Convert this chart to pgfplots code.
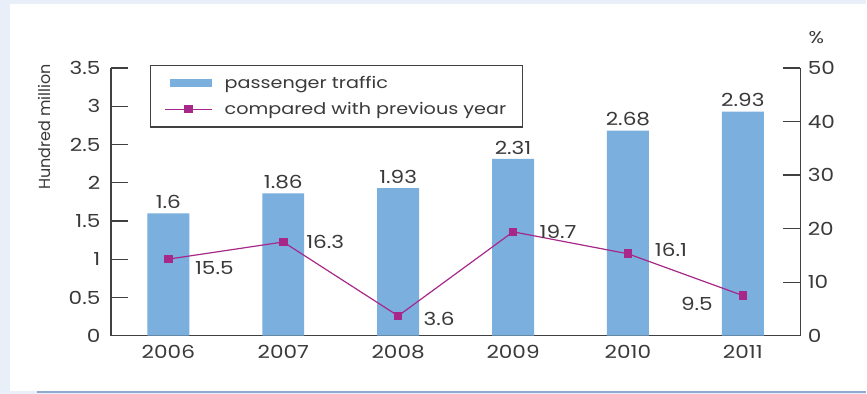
\documentclass[border=0pt]{standalone}
\usepackage{fontspec}
\setmainfont{Poppins}[FakeStretch=1.2]
\newfontfamily\plainfont{Poppins}
\usepackage{pgfplots}
\pgfplotsset{compat=1.18}
\definecolor{bgblue}{HTML}{E8EFF8}
\definecolor{barblue}{HTML}{7AAFDE}
\definecolor{linemag}{HTML}{A8288A}
\definecolor{txt}{HTML}{3A3A3A}
\definecolor{axiscol}{HTML}{404040}
\definecolor{rulecol}{HTML}{8FAACF}
\pgfplotsset{
  common/.style={
    at={(111pt,58pt)}, anchor=south west, scale only axis,
    width=690pt, height=268pt,
    xmin=-0.5, xmax=5.5,
    axis line style={axiscol, line width=1.3pt},
    tick style={axiscol, line width=1.3pt},
    tick align=inside, major tick length=17pt, minor tick length=6pt,
    ticklabel style={font=\fontsize{18}{20}\selectfont, text=txt},
    /pgf/number format/assume math mode=true,
  },
  barlegend/.style={legend image code/.code={\fill[barblue] (5pt,-4pt) rectangle (47pt,4pt);}},
  linelegend/.style={legend image code/.code={\draw[##1, mark repeat=2, mark phase=2] plot coordinates {(0pt,0pt) (23.5pt,0pt) (47pt,0pt)};}},
}
\begin{document}
\begin{tikzpicture}
\fill[bgblue] (0,0) rectangle (867pt,394pt);
\fill[white] (10pt,2.5pt) rectangle (867pt,390pt);
\draw[rulecol, line width=1.5pt] (37pt,1.5pt) -- (867pt,1.5pt);
\path[use as bounding box] (0,0) rectangle (867pt,394pt);

\begin{axis}[common,
  ymin=0, ymax=3.5, ytick={0,0.5,...,3.5},
  axis y line*=left, axis x line*=bottom,
  xtick={0,...,5}, xticklabels={2006,2007,2008,2009,2010,2011},
  xtick style={draw=none},
  minor xtick={0.5,1.5,2.5,3.5,4.5},
  yticklabel style={xshift=-7pt},
  xticklabel style={yshift=-6pt},
  ylabel={Hundred million},
  ylabel style={at={(axis description cs:-0.0957,0.78)}, anchor=center, font=\plainfont\fontsize{16}{18}\selectfont, text=txt},
  legend cell align=left,
  legend style={at={(0.0565,1.011)}, anchor=north west, draw=axiscol, line width=1.3pt, fill=white,
    font=\fontsize{16}{19}\selectfont, text=txt, inner xsep=14pt, inner ysep=9pt, row sep=8pt,
    /tikz/every odd column/.append style={column sep=10pt}},
]
\addplot[ybar, bar width=42pt, fill=barblue, draw=none, barlegend,
  nodes near coords, point meta=explicit symbolic,
  every node near coord/.append style={font=\fontsize{18}{20}\selectfont, text=txt, yshift=1pt}]
  table[meta=label] {
x y label
0 1.60 1.6
1 1.86 1.86
2 1.93 1.93
3 2.31 2.31
4 2.68 2.68
5 2.93 2.93
};
\addlegendentry{passenger traffic}
\addlegendimage{linemag, line width=1.2pt, mark=square*, mark size=3.7pt, linelegend}
\addlegendentry{compared with previous year}
\end{axis}

\begin{axis}[common,
  ymin=0, ymax=50, ytick={0,10,...,50},
  axis y line*=right, axis x line=none,
  yticklabel style={xshift=4pt},
  ylabel={\%},
  ylabel style={at={(axis description cs:1.0232,1.112)}, anchor=center, rotate=-90, font=\fontsize{17}{20}\selectfont, text=txt},
]
\addplot[linemag, line width=1.2pt, mark=square*, mark size=3.7pt,
  nodes near coords, point meta=explicit symbolic,
  visualization depends on={\thisrow{dx} \as \dx},
  visualization depends on={\thisrow{dy} \as \dy},
  every node near coord/.append style={anchor=center, xshift=\dx pt, yshift=\dy pt,
    font=\fontsize{18}{20}\selectfont, text=txt}]
  table[meta=label] {
x y label dx dy
0 14.3 15.5 46 -9
1 17.5 16.3 42 0
2 3.7 3.6 41 -3
3 19.4 19.7 45 0
4 15.3 16.1 43 4
5 7.5 9.5 -46 -8
};
\end{axis}
\end{tikzpicture}
\end{document}
